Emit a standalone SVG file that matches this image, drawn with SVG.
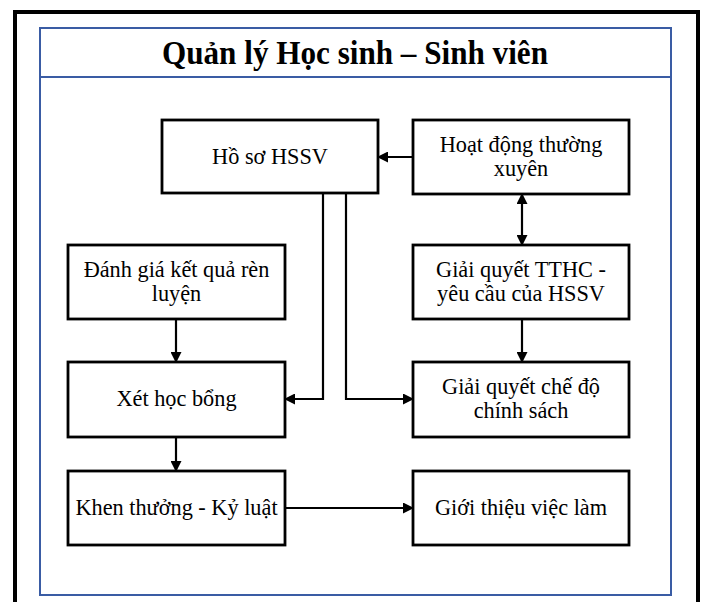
<svg xmlns="http://www.w3.org/2000/svg" width="705" height="602" viewBox="0 0 705 602">
<style>
.box{fill:#fff;stroke:#000;stroke-width:2.8}
.t{font-family:"Liberation Serif","Times New Roman",serif;font-size:22.3px;fill:#000;text-anchor:middle}
.title{font-family:"Liberation Serif","Times New Roman",serif;font-size:34px;font-weight:bold;fill:#000;text-anchor:middle}
.c{fill:none;stroke:#000;stroke-width:2.2}
</style>
<defs>
<marker id="ah" markerUnits="userSpaceOnUse" markerWidth="11" markerHeight="11" refX="10" refY="5.5" orient="auto-start-reverse">
<path d="M0,0 L11,5.5 L0,11 z" fill="#000"/>
</marker>
</defs>
<rect x="15" y="12" width="683" height="600" fill="#fff" stroke="#000" stroke-width="4"/>
<g id="frame">
<rect x="40" y="28" width="631" height="567" fill="none" stroke="#3a5ca4" stroke-width="2"/>
<line x1="40" y1="77" x2="671" y2="77" stroke="#3a5ca4" stroke-width="2"/>
<text class="title" x="355" y="64" textLength="386" lengthAdjust="spacingAndGlyphs">Quản lý Học sinh – Sinh viên</text>
</g>
<g id="connectors">
<path class="c" d="M413,157 H378" marker-end="url(#ah)"/>
<path class="c" d="M522,194 V245" marker-start="url(#ah)" marker-end="url(#ah)"/>
<path class="c" d="M176,319 V362" marker-end="url(#ah)"/>
<path class="c" d="M176,437 V471" marker-end="url(#ah)"/>
<path class="c" d="M323,193 V399 H285" marker-end="url(#ah)"/>
<path class="c" d="M346,193 V399 H413" marker-end="url(#ah)"/>
<path class="c" d="M522,319 V362" marker-end="url(#ah)"/>
<path class="c" d="M285,508 H413" marker-end="url(#ah)"/>
</g>
<g id="hoso">
<rect class="box" x="162" y="120" width="216" height="73"/>
<text class="t" x="270" y="164">Hồ sơ HSSV</text>
</g>
<g id="hoatdong">
<rect class="box" x="413" y="120" width="216" height="74"/>
<text class="t" x="521" y="152">Hoạt động thường</text>
<text class="t" x="521" y="176">xuyên</text>
</g>
<g id="danhgia">
<rect class="box" x="68" y="245" width="217" height="74"/>
<text class="t" x="176.5" y="277">Đánh giá kết quả rèn</text>
<text class="t" x="176.5" y="301">luyện</text>
</g>
<g id="tthc">
<rect class="box" x="413" y="245" width="216" height="74"/>
<text class="t" x="521" y="277">Giải quyết TTHC -</text>
<text class="t" x="521" y="301">yêu cầu của HSSV</text>
</g>
<g id="hocbong">
<rect class="box" x="68" y="362" width="217" height="75"/>
<text class="t" x="176.5" y="406">Xét học bổng</text>
</g>
<g id="chedo">
<rect class="box" x="413" y="362" width="216" height="75"/>
<text class="t" x="521" y="394">Giải quyết chế độ</text>
<text class="t" x="521" y="418">chính sách</text>
</g>
<g id="khenthuong">
<rect class="box" x="68" y="471" width="217" height="74"/>
<text class="t" x="176.5" y="515">Khen thưởng - Kỷ luật</text>
</g>
<g id="gioithieu">
<rect class="box" x="413" y="471" width="216" height="74"/>
<text class="t" x="521" y="515">Giới thiệu việc làm</text>
</g>
</svg>
